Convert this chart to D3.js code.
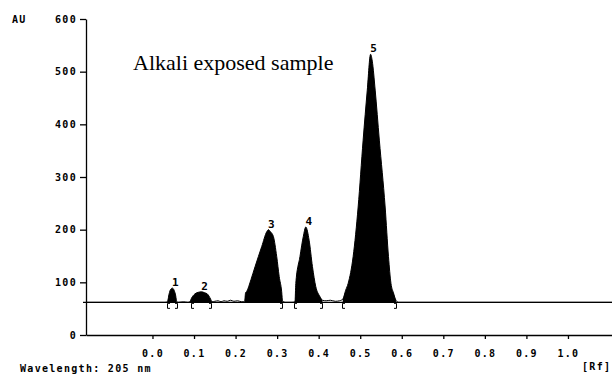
<!DOCTYPE html>
<html>
<head>
<meta charset="utf-8">
<script src="https://cdn.jsdelivr.net/npm/d3@7"></script>
<style>
  body { margin: 0; background: #fff; }
  .mono { font-family: "DejaVu Sans Mono", monospace; font-size: 10px; font-weight: bold; letter-spacing: 1.3px; fill: #000; }
</style>
</head>
<body>
<div id="chart"></div>
<script>
// densitogram trace (Rf, AU)
const traceRf = [-0.16, 0.030, 0.036, 0.040, 0.044, 0.048, 0.052, 0.056, 0.058, 0.062, 0.075, 0.085,
    0.090, 0.094, 0.102, 0.110, 0.118, 0.126, 0.132, 0.140, 0.143, 0.150, 0.158, 0.165, 0.172, 0.180,
    0.188, 0.196, 0.205, 0.215, 0.222, 0.224, 0.227, 0.237, 0.247, 0.263, 0.275, 0.279, 0.284, 0.291,
    0.299, 0.305, 0.311, 0.313, 0.320, 0.336, 0.343, 0.345, 0.355, 0.363, 0.369, 0.377, 0.385, 0.393,
    0.403, 0.409, 0.418, 0.428, 0.440, 0.450, 0.458, 0.465, 0.471, 0.483, 0.495, 0.507, 0.517, 0.525,
    0.529, 0.536, 0.546, 0.560, 0.568, 0.574, 0.580, 0.586, 0.592, 1.106];
const traceAU = [62, 62, 63, 78, 87, 89, 85, 74, 64, 62, 63, 62,
    63, 70, 78, 81, 82, 80, 78, 68, 63, 64, 65, 63, 65, 64,
    66, 64, 65, 63, 64, 80, 83, 105, 130, 168, 196, 200, 196, 187,
    149, 111, 82, 64, 62, 62, 63, 98, 149, 187, 205, 180, 130, 92,
    73, 66, 65, 66, 64, 65, 68, 85, 98, 149, 243, 370, 465, 533,
    520, 465, 370, 243, 149, 98, 80, 66, 62, 62];

const baselineAU = 62;

// integrated peaks
const peakNames = ['1', '2', '3', '4', '5'];
const peakApexRf = [0.048, 0.118, 0.279, 0.369, 0.525];
const peakApexAU = [89, 82, 200, 205, 533];
const peakStart = [0.036, 0.090, 0.222, 0.343, 0.458];
const peakEnd = [0.060, 0.143, 0.313, 0.409, 0.590];

// integration brackets below the baseline
const bracketRf = [0.036, 0.060, 0.092, 0.140, 0.311, 0.340, 0.407, 0.455, 0.585];
const bracketSide = ['[', ']', '[', ']', ']', '[', ']', '[', ']'];

const xTicks = [0.0, 0.1, 0.2, 0.3, 0.4, 0.5, 0.6, 0.7, 0.8, 0.9, 1.0];
const yTicks = [0, 100, 200, 300, 400, 500, 600];

const width = 612, height = 376;

const svg = d3.select('#chart')
    .append('svg')
    .attr('width', width)
    .attr('height', height);

const xScale = d3.scaleLinear()
    .domain([-0.16, 1.106])
    .range([86, 612]);
const yScale = d3.scaleLinear()
    .domain([0, 600])
    .range([335, 19]);

const trace = traceRf.map((rf, i) => ({rf: rf, au: traceAU[i]}));

// filled peaks
peakStart.forEach(function (s, i) {
    const part = trace.filter(d => d.rf >= s && d.rf <= peakEnd[i]);
    svg.append('path')
        .datum(part)
        .attr('fill', '#000')
        .attr('d', d3.area()
            .curve(d3.curveMonotoneX)
            .x(d => xScale(d.rf))
            .y0(yScale(baselineAU))
            .y1(d => yScale(d.au)));
});

// baseline
svg.append('line')
    .attr('x1', 83).attr('x2', width)
    .attr('y1', yScale(baselineAU)).attr('y2', yScale(baselineAU))
    .attr('stroke', '#000')
    .attr('stroke-width', 1.2);

// the trace
svg.append('path')
    .datum(trace)
    .attr('fill', 'none')
    .attr('stroke', '#000')
    .attr('stroke-width', 1)
    .attr('d', d3.line()
        .curve(d3.curveMonotoneX)
        .x(d => xScale(d.rf))
        .y(d => yScale(d.au)));

// brackets
const by = yScale(baselineAU) + 1;
svg.append('g')
    .selectAll('path')
    .data(bracketRf)
    .enter()
    .append('path')
    .attr('fill', 'none')
    .attr('stroke', '#000')
    .attr('stroke-width', 1)
    .attr('d', function (d, i) {
        const x = Math.round(xScale(d)) + 0.5;
        const dir = bracketSide[i] === '[' ? 2.5 : -2.5;
        return `M${x + dir},${by} H${x} V${by + 5} H${x + dir}`;
    });

// peak numbers
svg.append('g')
    .selectAll('text')
    .data(peakNames)
    .enter()
    .append('text')
    .attr('class', 'mono')
    .style('letter-spacing', '0px')
    .style('font-size', '11px')
    .attr('text-anchor', 'middle')
    .attr('x', (d, i) => xScale(peakApexRf[i]) + 3)
    .attr('y', (d, i) => yScale(peakApexAU[i]) - 2)
    .text(d => d);

// Y axis
const yAxis = svg.append('g')
    .attr('transform', 'translate(86,0)')
    .call(d3.axisLeft(yScale).tickValues(yTicks).tickSize(6).tickSizeOuter(0).tickPadding(3)
        .tickFormat(d3.format('d')));
yAxis.selectAll('text').attr('class', 'mono').attr('font-family', null).attr('font-size', null);
yAxis.selectAll('path, line').attr('stroke-width', 1.3);

// X axis
const xAxis = svg.append('g')
    .attr('transform', 'translate(0,335)')
    .call(d3.axisBottom(xScale).tickValues(xTicks).tickSize(4).tickSizeOuter(0).tickPadding(11)
        .tickFormat(d3.format('.1f')));
xAxis.selectAll('text').attr('class', 'mono').attr('font-family', null).attr('font-size', null);
xAxis.selectAll('path, line').attr('stroke-width', 1.3);

// labels
svg.append('text').attr('class', 'mono').attr('x', 12).attr('y', 23).text('AU');
svg.append('text').attr('class', 'mono').attr('x', 20).attr('y', 372).text('Wavelength: 205 nm');
svg.append('text').attr('class', 'mono').attr('x', 582).attr('y', 370).text('[Rf]');

svg.append('text')
    .attr('x', 133)
    .attr('y', 70)
    .attr('font-family', '"Liberation Serif", "Times New Roman", serif')
    .attr('font-size', 22)
    .attr('fill', '#000')
    .text('Alkali exposed sample');
</script>
</body>
</html>
